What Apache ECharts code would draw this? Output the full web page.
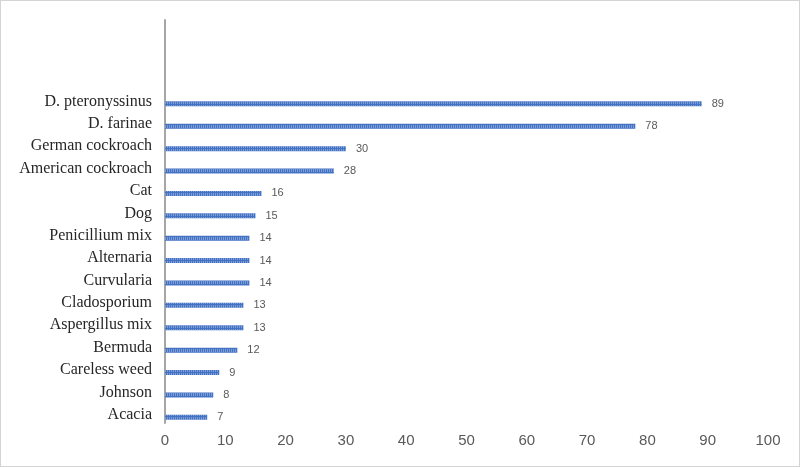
<!DOCTYPE html>
<html>
<head>
<meta charset="utf-8">
<script src="https://cdn.jsdelivr.net/npm/echarts@6/dist/echarts.min.js"></script>
<style>
  html, body { margin: 0; padding: 0; background: #fff; }
  #main { width: 798px; height: 465px; border: 1px solid #d4d4d4; }
</style>
</head>
<body>
<div id="main"></div>
<script>
// categories bottom to top (three blank rows above the top bar)
var allergens = ['Acacia', 'Johnson', 'Careless weed', 'Bermuda', 'Aspergillus mix',
    'Cladosporium', 'Curvularia', 'Alternaria', 'Penicillium mix', 'Dog', 'Cat',
    'American cockroach', 'German cockroach', 'D. farinae', 'D. pteronyssinus', '', '', ''];
var counts = [7, 8, 9, 12, 13, 13, 14, 14, 14, 15, 16, 28, 30, 78, 89, '-', '-', '-'];
var xTicks = [0, 10, 20, 30, 40, 50, 60, 70, 80, 90, 100];

var myChart = echarts.init(document.getElementById('main'));
var barBlue = '#4472c4';

option = {
    animation: false,
    grid: {
        left: 164,
        right: 31,
        top: 19,
        bottom: 43
    },
    xAxis: {
        type: 'value',
        min: xTicks[0],
        max: xTicks[xTicks.length - 1],
        interval: 10,
        axisLine: { show: false },
        axisTick: { show: false },
        splitLine: { show: false },
        axisLabel: {
            margin: 10,
            color: '#595959',
            fontSize: 15,
            fontFamily: 'Liberation Sans'
        }
    },
    yAxis: {
        type: 'category',
        data: allergens,
        axisLine: { show: true, lineStyle: { color: '#a6a6a6', width: 2 } },
        axisTick: { show: false },
        axisLabel: {
            margin: 13,
            formatter: '{n|{value}}',
            rich: {
                n: {
                    color: '#262626',
                    fontSize: 16,
                    fontFamily: 'Liberation Serif',
                    padding: [6, 0, 0, 0]
                }
            }
        }
    },
    series: [
        {
            name: 'blank',
            type: 'bar',
            barWidth: 5,
            barGap: '120%',
            data: []
        },
        {
            name: 'patients',
            type: 'bar',
            barWidth: 5,
            barGap: '120%',
            data: counts,
            itemStyle: {
                color: barBlue,
                decal: {
                    symbol: 'rect',
                    color: 'rgba(255,255,255,0.3)',
                    dashArrayX: [1, 1],
                    dashArrayY: [3, 1],
                    symbolSize: 1,
                    rotation: 0
                }
            },
            label: {
                show: true,
                position: 'right',
                distance: 10,
                color: '#595959',
                fontSize: 11,
                fontFamily: 'Liberation Sans'
            }
        }
    ]
};
myChart.setOption(option);
</script>
</body>
</html>
